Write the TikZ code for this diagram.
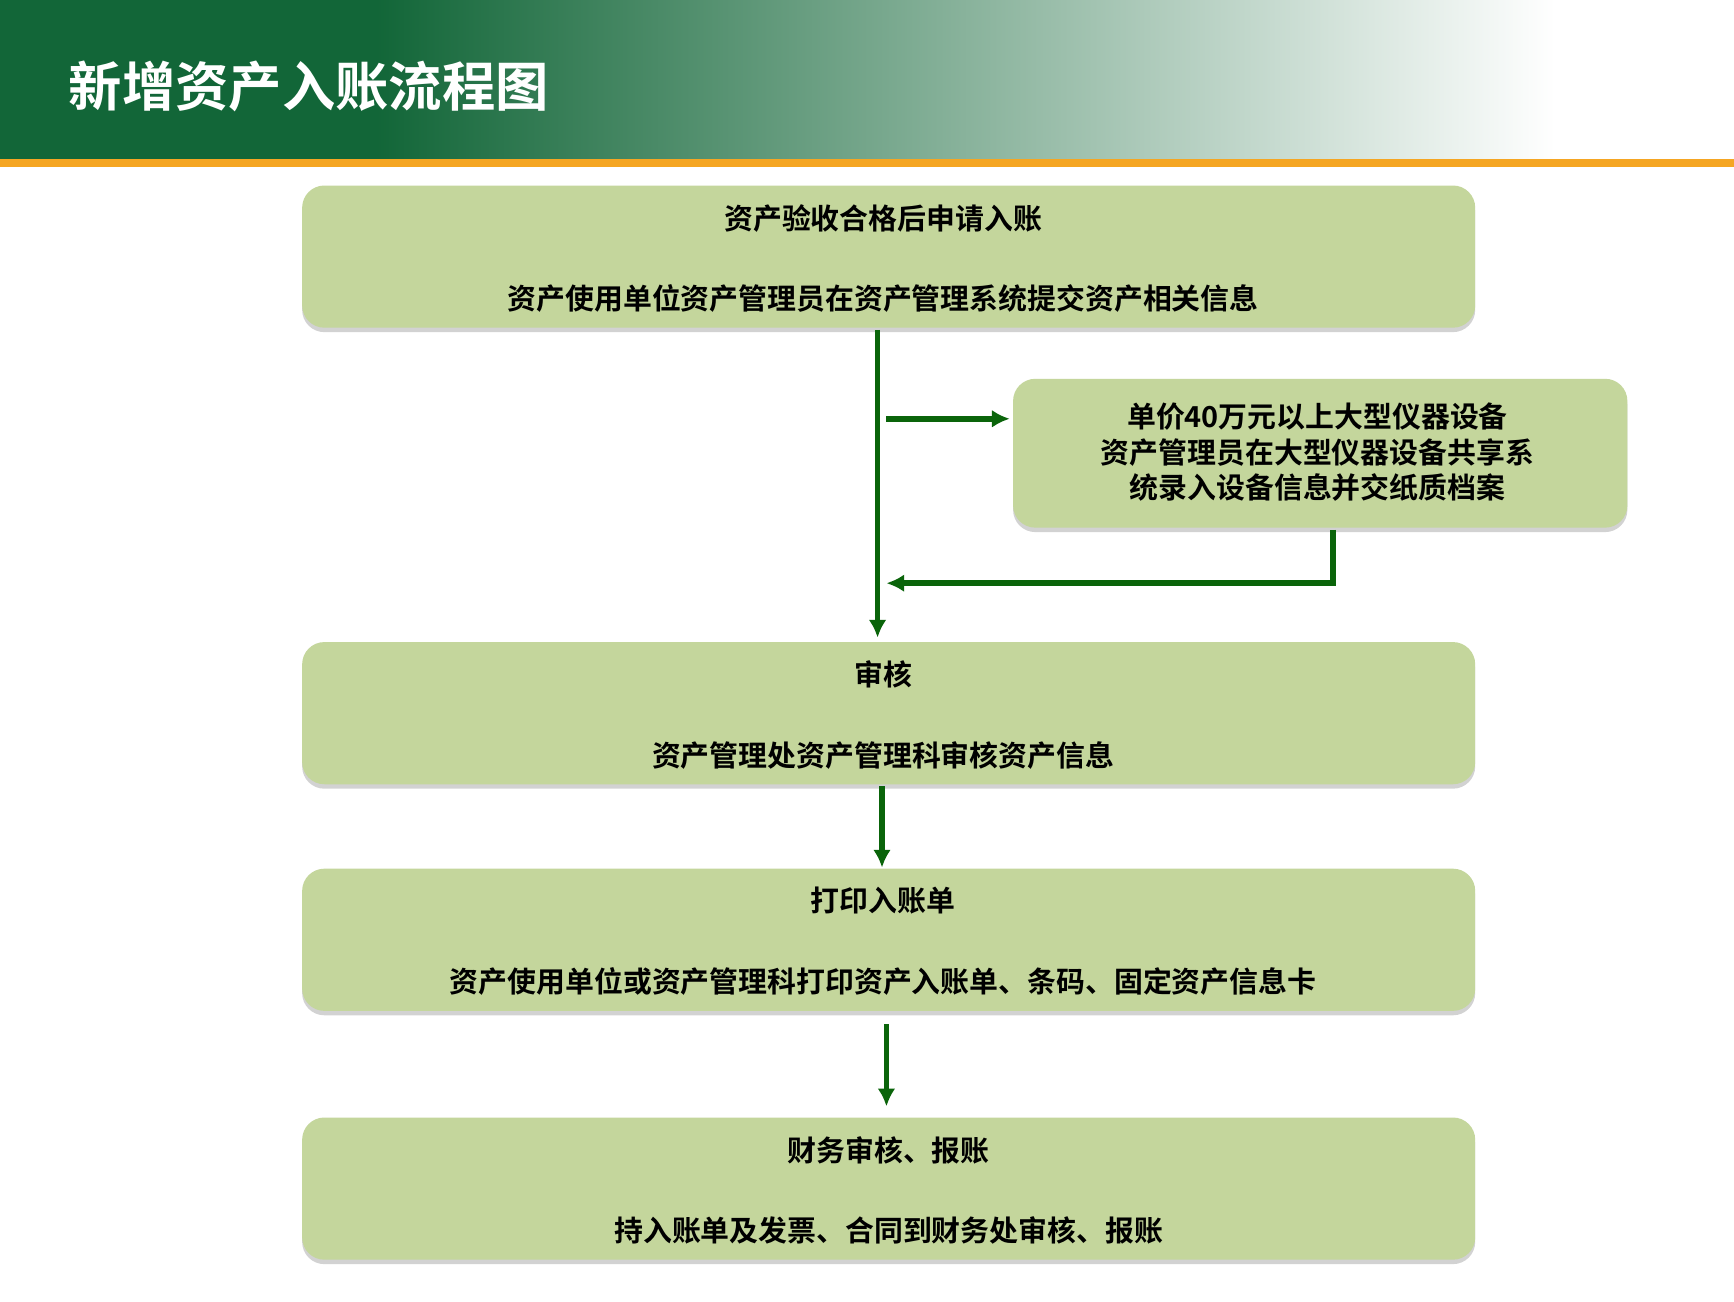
\documentclass[tikz,border=0pt]{standalone}
\usepackage{fontspec}
\newfontfamily\cjk{Noto Sans CJK SC Bold}
\usetikzlibrary{shadows}
\definecolor{hdr}{RGB}{18,102,56}
\definecolor{boxc}{RGB}{196,214,156}
\definecolor{arr}{RGB}{10,100,10}
\definecolor{org}{RGB}{245,166,35}
\begin{document}
\begin{tikzpicture}[x=0.5pt,y=-0.5pt,
  box/.style={fill=boxc,rounded corners=10pt,drop shadow={shadow xshift=0pt,shadow yshift=-2pt,opacity=0.35}},
  txt/.style={font=\cjk\fontsize{13}{16}\selectfont,align=center,text=black},
  ar/.style={draw=arr,line width=2.5pt,-{Latex[length=8pt,width=8pt]}},
  ln/.style={draw=arr,line width=2.5pt}]
\usetikzlibrary{arrows.meta}
\useasboundingbox (0,0) rectangle (1561,1172);
\fill[white] (0,0) rectangle (1561,1172);
\fill[hdr] (0,0) rectangle (340,143);
\shade[left color=hdr,right color=white] (339,0) rectangle (1400,143);
\fill[org] (0,143) rectangle (1561,150);
\node[anchor=west,text=white,font=\cjk\fontsize{24}{28}\selectfont] (title) at (55,78) {新增资产入账流程图};
\path[box] (272,167) rectangle (1328,295);
\node[txt] (b1a) at (795,197) {资产验收合格后申请入账};
\node[txt] (b1b) at (795,269) {资产使用单位资产管理员在资产管理系统提交资产相关信息};
\path[box] (912,341) rectangle (1465,475);
\node[txt,align=center] (s) at (1186,407) {单价40万元以上大型仪器设备\\资产管理员在大型仪器设备共享系\\统录入设备信息并交纸质档案};
\path[box] (272,578) rectangle (1328,706);
\node[txt] (b2a) at (795,607) {审核};
\node[txt] (b2b) at (795,680) {资产管理处资产管理科审核资产信息};
\path[box] (272,782) rectangle (1328,910);
\node[txt] (b3a) at (795,811) {打印入账单};
\node[txt] (b3b) at (795,884) {资产使用单位或资产管理科打印资产入账单、条码、固定资产信息卡};
\path[box] (272,1006) rectangle (1328,1134);
\node[txt] (b4a) at (800,1036) {财务审核、报账};
\node[txt] (b4b) at (800,1108) {持入账单及发票、合同到财务处审核、报账};
\coordinate (a1) at (790,297); \coordinate (a2) at (790,574);
\coordinate (c1) at (798,377); \coordinate (c2) at (909,377);
\coordinate (d1) at (1200,477); \coordinate (d2) at (1200,525); \coordinate (d3) at (798,525);
\coordinate (e1) at (794,708); \coordinate (e2) at (794,781);
\coordinate (f1) at (798,922); \coordinate (f2) at (798,996);
\draw[ar] (a1) -- (a2);
\draw[ar] (c1) -- (c2);
\draw[ar] (d1) -- (d2) -- (d3);
\draw[ar] (e1) -- (e2);
\draw[ar] (f1) -- (f2);
\end{tikzpicture}
\end{document}
